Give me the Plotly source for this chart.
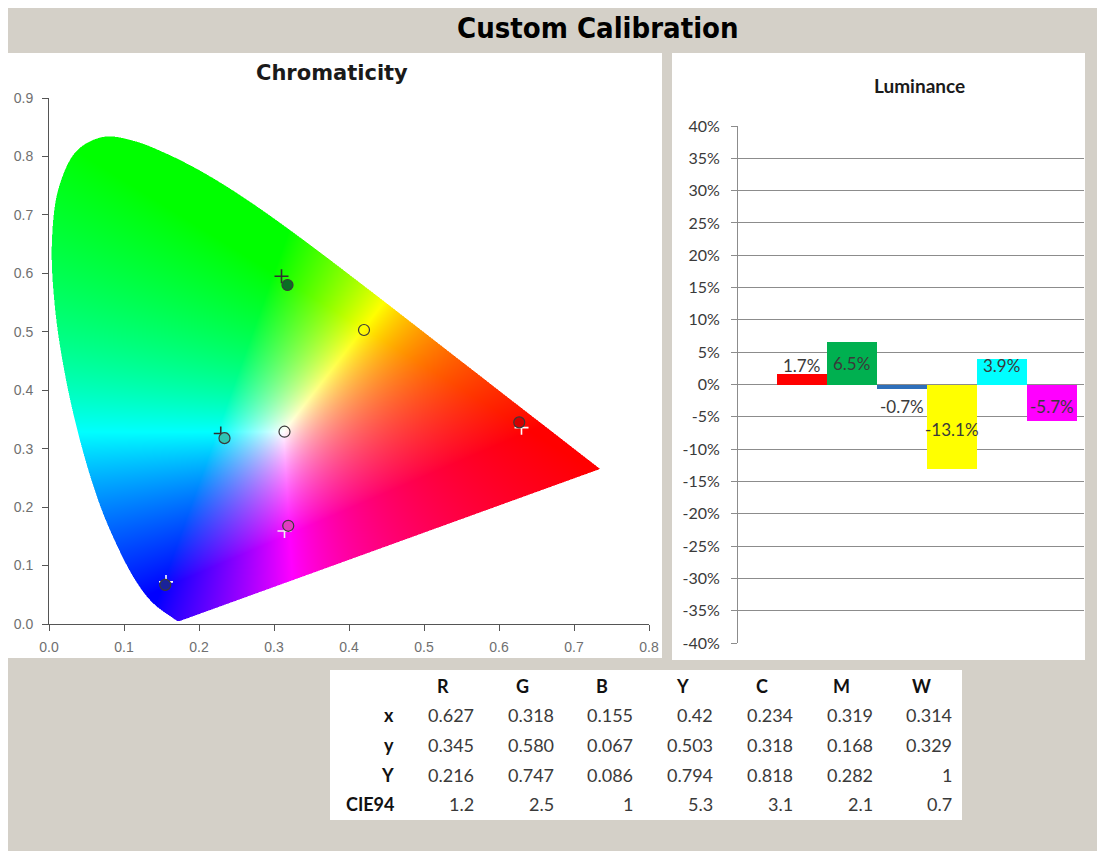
import base64
import struct
import zlib

import numpy as np
import plotly.graph_objects as go

# ---------------- data ----------------
TABLE_COLUMNS = ["R", "G", "B", "Y", "C", "M", "W"]
TABLE_ROW_LABELS = ["x", "y", "Y", "CIE94"]
ROW_X_TEXT = ["0.627", "0.318", "0.155", "0.42", "0.234", "0.319", "0.314"]
ROW_Y_TEXT = ["0.345", "0.580", "0.067", "0.503", "0.318", "0.168", "0.329"]
ROW_LUM_TEXT = ["0.216", "0.747", "0.086", "0.794", "0.818", "0.282", "1"]
ROW_CIE94_TEXT = ["1.2", "2.5", "1", "5.3", "3.1", "2.1", "0.7"]

MEASURED_X = [float(v) for v in ROW_X_TEXT]
MEASURED_Y = [float(v) for v in ROW_Y_TEXT]

TARGET_NAMES = ["R", "G", "B", "C", "M"]
TARGET_X = [0.630, 0.310, 0.156, 0.229, 0.314]
TARGET_Y = [0.336, 0.595, 0.072, 0.326, 0.159]

LUM_CATEGORIES = ["R", "G", "B", "Y", "C", "M"]
LUM_DELTA_PCT = [1.7, 6.5, -0.7, -13.1, 3.9, -5.7]

CHROMA_X_TICKS = [0.0, 0.1, 0.2, 0.3, 0.4, 0.5, 0.6, 0.7, 0.8]
CHROMA_Y_TICKS = [0.0, 0.1, 0.2, 0.3, 0.4, 0.5, 0.6, 0.7, 0.8, 0.9]
LUM_TICKS_PCT = [40, 35, 30, 25, 20, 15, 10, 5, 0, -5, -10, -15, -20, -25, -30, -35, -40]

# CIE 1931 2-degree spectral locus (380-700 nm)
LOCUS_X = [0.1741, 0.1740, 0.1738, 0.1736, 0.1733, 0.1730, 0.1726, 0.1721, 0.1714, 0.1703,
           0.1689, 0.1669, 0.1644, 0.1611, 0.1566, 0.1510, 0.1440, 0.1355, 0.1241, 0.1096,
           0.0913, 0.0687, 0.0454, 0.0235, 0.0082, 0.0039, 0.0139, 0.0389, 0.0743, 0.1142,
           0.1547, 0.1929, 0.2296, 0.2658, 0.3016, 0.3373, 0.3731, 0.4087, 0.4441, 0.4788,
           0.5125, 0.5448, 0.5752, 0.6029, 0.6270, 0.6482, 0.6658, 0.6801, 0.6915, 0.7006,
           0.7079, 0.7140, 0.7190, 0.7230, 0.7260, 0.7283, 0.7300, 0.7311, 0.7320, 0.7334,
           0.7344, 0.7347]
LOCUS_Y = [0.0050, 0.0050, 0.0049, 0.0049, 0.0048, 0.0048, 0.0048, 0.0048, 0.0051, 0.0058,
           0.0069, 0.0086, 0.0109, 0.0138, 0.0177, 0.0227, 0.0297, 0.0399, 0.0578, 0.0868,
           0.1327, 0.2007, 0.2950, 0.4127, 0.5384, 0.6548, 0.7502, 0.8120, 0.8338, 0.8262,
           0.8059, 0.7816, 0.7543, 0.7243, 0.6923, 0.6589, 0.6245, 0.5896, 0.5547, 0.5202,
           0.4866, 0.4544, 0.4242, 0.3965, 0.3725, 0.3514, 0.3340, 0.3197, 0.3083, 0.2993,
           0.2920, 0.2859, 0.2809, 0.2770, 0.2740, 0.2717, 0.2700, 0.2689, 0.2680, 0.2666,
           0.2656, 0.2653]

# ---------------- styles / layout ----------------
PAGE_OFFSET = 8            # browser body margin
FIG_W, FIG_H = 1089, 843
BG_GRAY = "#d4d0c8"
MEASURED_FILL = ["#d40000", "#0a6e24", "#1a239a", "rgba(0,0,0,0)", "#2ec4b4", "#e23cc0", "rgba(0,0,0,0)"]
TARGET_COLORS = ["#ffffff", "#303030", "#ffffff", "#303030", "#f2f2f2"]
BAR_COLORS = ["#ff0000", "#00b050", "#2e6fba", "#ffff00", "#00ffff", "#ff00ff"]


def pxx(x):
    return (x - PAGE_OFFSET) / FIG_W


def pxy(y):
    return 1 - (y - PAGE_OFFSET) / FIG_H


def png_data_uri(rgb):
    rgb = np.ascontiguousarray(rgb, dtype=np.uint8)
    h, w, _ = rgb.shape
    raw = b"".join(b"\x00" + rgb[i].tobytes() for i in range(h))

    def chunk(tag, data):
        c = struct.pack(">I", len(data)) + tag + data
        return c + struct.pack(">I", zlib.crc32(tag + data) & 0xFFFFFFFF)

    png = (b"\x89PNG\r\n\x1a\n"
           + chunk(b"IHDR", struct.pack(">IIBBBBB", w, h, 8, 2, 0, 0, 0))
           + chunk(b"IDAT", zlib.compress(raw, 9))
           + chunk(b"IEND", b""))
    return "data:image/png;base64," + base64.b64encode(png).decode()


def smooth_locus(px, py, n=12):
    """Centripetal Catmull-Rom curve through the locus samples (rendering only)."""
    P = np.column_stack([px, py]).astype(float)
    out = []
    for i in range(len(P) - 1):
        p1, p2 = P[i], P[i + 1]
        p0 = P[i - 1] if i > 0 else 2 * p1 - p2
        p3 = P[i + 2] if i + 2 < len(P) else 2 * p2 - p1
        t0 = 0.0
        t1 = t0 + max(np.linalg.norm(p1 - p0), 1e-9) ** 0.5
        t2 = t1 + max(np.linalg.norm(p2 - p1), 1e-9) ** 0.5
        t3 = t2 + max(np.linalg.norm(p3 - p2), 1e-9) ** 0.5
        for t in np.linspace(t1, t2, n, endpoint=False):
            a1 = (t1 - t) / (t1 - t0) * p0 + (t - t0) / (t1 - t0) * p1
            a2 = (t2 - t) / (t2 - t1) * p1 + (t - t1) / (t2 - t1) * p2
            a3 = (t3 - t) / (t3 - t2) * p2 + (t - t2) / (t3 - t2) * p3
            b1 = (t2 - t) / (t2 - t0) * a1 + (t - t0) / (t2 - t0) * a2
            b2 = (t3 - t) / (t3 - t1) * a2 + (t - t1) / (t3 - t1) * a3
            out.append((t2 - t) / (t2 - t1) * b1 + (t - t1) / (t2 - t1) * b2)
    out.append(P[-1])
    out = np.array(out)
    return out[:, 0], out[:, 1]


def gamut_image(w, h, x_max, y_max, ss=2):
    xs = (np.arange(w * ss) + 0.5) / (w * ss) * x_max
    ys = y_max - (np.arange(h * ss) + 0.5) / (h * ss) * y_max
    X, Y = np.meshgrid(xs, ys)
    lx, ly = smooth_locus(LOCUS_X, LOCUS_Y)
    inside = np.zeros(X.shape, bool)
    n = len(lx)
    for i in range(n):
        x1, y1 = lx[i], ly[i]
        x2, y2 = lx[(i + 1) % n], ly[(i + 1) % n]
        if y1 == y2:
            continue
        cond = (y1 > Y) != (y2 > Y)
        xint = x1 + (Y - y1) * (x2 - x1) / (y2 - y1)
        inside ^= cond & (X < xint)
    yy = np.maximum(Y, 1e-4)
    XYZ = np.stack([X / yy, np.ones_like(yy), (1 - X - yy) / yy], axis=-1)
    M = np.array([[3.2406, -1.5372, -0.4986],
                  [-0.9689, 1.8758, 0.0415],
                  [0.0557, -0.2040, 1.0570]])
    lin = np.clip(XYZ @ M.T, 0, None)
    lin = lin / np.maximum(lin.max(axis=-1, keepdims=True), 1e-9)
    col_rgb = lin ** 0.85
    cov = inside.astype(float)[..., None]
    col = col_rgb * cov + (1 - cov)
    col = col.reshape(h, ss, w, ss, 3).mean(axis=(1, 3))
    return (np.clip(col, 0, 1) * 255 + 0.5).astype(np.uint8)


WHITE_URI = png_data_uri(np.full((1, 1, 3), 255, np.uint8))
GAMUT_URI = png_data_uri(gamut_image(600, 526, 0.8, 0.9))


def white_panel(x0, y0, x1, y1):
    return dict(source=WHITE_URI, xref="paper", yref="paper", x=pxx(x0), y=pxy(y0),
                sizex=(x1 - x0) / FIG_W, sizey=(y1 - y0) / FIG_H,
                xanchor="left", yanchor="top", sizing="stretch", layer="below")


images = [
    white_panel(8, 53, 662, 658),
    white_panel(672, 53, 1085, 660),
    white_panel(330, 670, 962, 820),
    dict(source=GAMUT_URI, xref="x", yref="y", x=0, y=0.9, sizex=0.8, sizey=0.9,
         xanchor="left", yanchor="top", sizing="stretch", layer="below"),
]

fig = go.Figure()
fig.add_trace(go.Scatter(
    x=TARGET_X, y=TARGET_Y, mode="markers", xaxis="x", yaxis="y", text=TARGET_NAMES,
    marker=dict(symbol="cross-thin", size=10, color=TARGET_COLORS,
                line=dict(color=TARGET_COLORS, width=1.6)),
    showlegend=False, hoverinfo="skip"))
fig.add_trace(go.Scatter(
    x=MEASURED_X, y=MEASURED_Y, mode="markers", xaxis="x", yaxis="y", text=TABLE_COLUMNS,
    marker=dict(symbol="circle", size=11, color=MEASURED_FILL,
                line=dict(color="#3a3a3a", width=1.2)),
    showlegend=False, hoverinfo="skip"))
fig.add_trace(go.Bar(
    x=LUM_CATEGORIES, y=[v / 100 for v in LUM_DELTA_PCT], xaxis="x2", yaxis="y2",
    marker=dict(color=BAR_COLORS, line=dict(width=0)), width=1.0,
    showlegend=False, hoverinfo="skip"))

annotations = []
annotations.append(dict(text="<b>Custom Calibration</b>", x=pxx(598), y=pxy(28), xref="paper", yref="paper",
                        showarrow=False, xanchor="center", yanchor="middle",
                        font=dict(family="DejaVu Sans Condensed, DejaVu Sans", size=29, color="#000000")))
annotations.append(dict(text="<b>Chromaticity</b>", x=pxx(332), y=pxy(73), xref="paper", yref="paper",
                        showarrow=False, xanchor="center", yanchor="middle",
                        font=dict(family="DejaVu Sans", size=21, color="#1a1a1a")))
annotations.append(dict(text="<b>Luminance</b>", x=pxx(919), y=pxy(85), xref="paper", yref="paper",
                        showarrow=False, xanchor="center", yanchor="middle",
                        font=dict(family="Lato", size=19, color="#1a1a1a")))

# bar value labels
for cat, v in zip(LUM_CATEGORIES, LUM_DELTA_PCT):
    pos = (1 if v >= 0 else -1) * max(abs(v) / 2, 3.0)
    annotations.append(dict(text=f"{v:.1f}%", x=cat, y=pos / 100, xref="x2", yref="y2",
                            showarrow=False, xanchor="center", yanchor="middle",
                            yshift=0 if v >= 0 else -3,
                            font=dict(family="Lato", size=17, color="#3a3a3a")))

# table
COL_RIGHT_PX = [476 + i * 79.7 for i in range(len(TABLE_COLUMNS))]
ROW_PX = [715, 745, 775, 804]
HEADER_PX = 686
TABLE_FONT = "Lato"
for name, right in zip(TABLE_COLUMNS, COL_RIGHT_PX):
    annotations.append(dict(text=f"<b>{name}</b>", x=pxx(right - 33), y=pxy(HEADER_PX), xref="paper", yref="paper",
                            showarrow=False, xanchor="center", yanchor="middle",
                            font=dict(family=TABLE_FONT, size=18, color="#111111")))
for label, row, ypx in zip(TABLE_ROW_LABELS, [ROW_X_TEXT, ROW_Y_TEXT, ROW_LUM_TEXT, ROW_CIE94_TEXT], ROW_PX):
    annotations.append(dict(text=f"<b>{label}</b>", x=pxx(396), y=pxy(ypx), xref="paper", yref="paper",
                            showarrow=False, xanchor="right", yanchor="middle",
                            font=dict(family=TABLE_FONT, size=18, color="#111111")))
    for val, right in zip(row, COL_RIGHT_PX):
        annotations.append(dict(text=val, x=pxx(right), y=pxy(ypx), xref="paper", yref="paper",
                                showarrow=False, xanchor="right", yanchor="middle",
                                font=dict(family=TABLE_FONT, size=18, color="#3a3a3a")))

chroma_tickfont = dict(family="Liberation Sans, Arial", size=14, color="#707070")
fig.update_layout(
    width=FIG_W, height=FIG_H, autosize=False,
    margin=dict(l=0, r=0, t=0, b=0, pad=0, autoexpand=False),
    paper_bgcolor=BG_GRAY, plot_bgcolor="rgba(0,0,0,0)",
    images=images, annotations=annotations,
    xaxis=dict(domain=[pxx(49), pxx(649)], range=[0, 0.8], tickvals=CHROMA_X_TICKS,
               ticktext=[f"{t:.1f}" for t in CHROMA_X_TICKS], showgrid=False, zeroline=False,
               showline=True, linecolor="#555555", linewidth=1, ticks="outside", ticklen=6,
               tickcolor="#555555", tickfont=chroma_tickfont, ticklabelstandoff=4,
               anchor="y", fixedrange=True, automargin=False),
    yaxis=dict(domain=[pxy(624), pxy(98)], range=[0, 0.9], tickvals=CHROMA_Y_TICKS,
               ticktext=[f"{t:.1f}" for t in CHROMA_Y_TICKS], showgrid=False, zeroline=False,
               showline=True, linecolor="#555555", linewidth=1, ticks="outside", ticklen=6,
               tickcolor="#555555", tickfont=chroma_tickfont, ticklabelstandoff=6,
               anchor="x", fixedrange=True, automargin=False),
    xaxis2=dict(domain=[pxx(738), pxx(1084)], type="category", range=[-1.274, 5.646],
                showticklabels=False, showgrid=False, zeroline=False, showline=False, ticks="",
                anchor="y2", fixedrange=True, automargin=False),
    yaxis2=dict(domain=[pxy(643), pxy(126)], range=[-0.4, 0.4],
                tickvals=[t / 100 for t in LUM_TICKS_PCT], ticktext=[f"{t}%" for t in LUM_TICKS_PCT],
                showgrid=True, gridcolor="#8c8c8c", gridwidth=1, zeroline=False,
                showline=True, linecolor="#8c8c8c", linewidth=1, ticks="outside", ticklen=6,
                tickcolor="#8c8c8c", tickfont=dict(family="Lato", size=16, color="#3a3a3a"),
                ticklabelstandoff=8, anchor="x2", fixedrange=True, automargin=False),
    bargap=0,
)

fig.write_html("out.html")
